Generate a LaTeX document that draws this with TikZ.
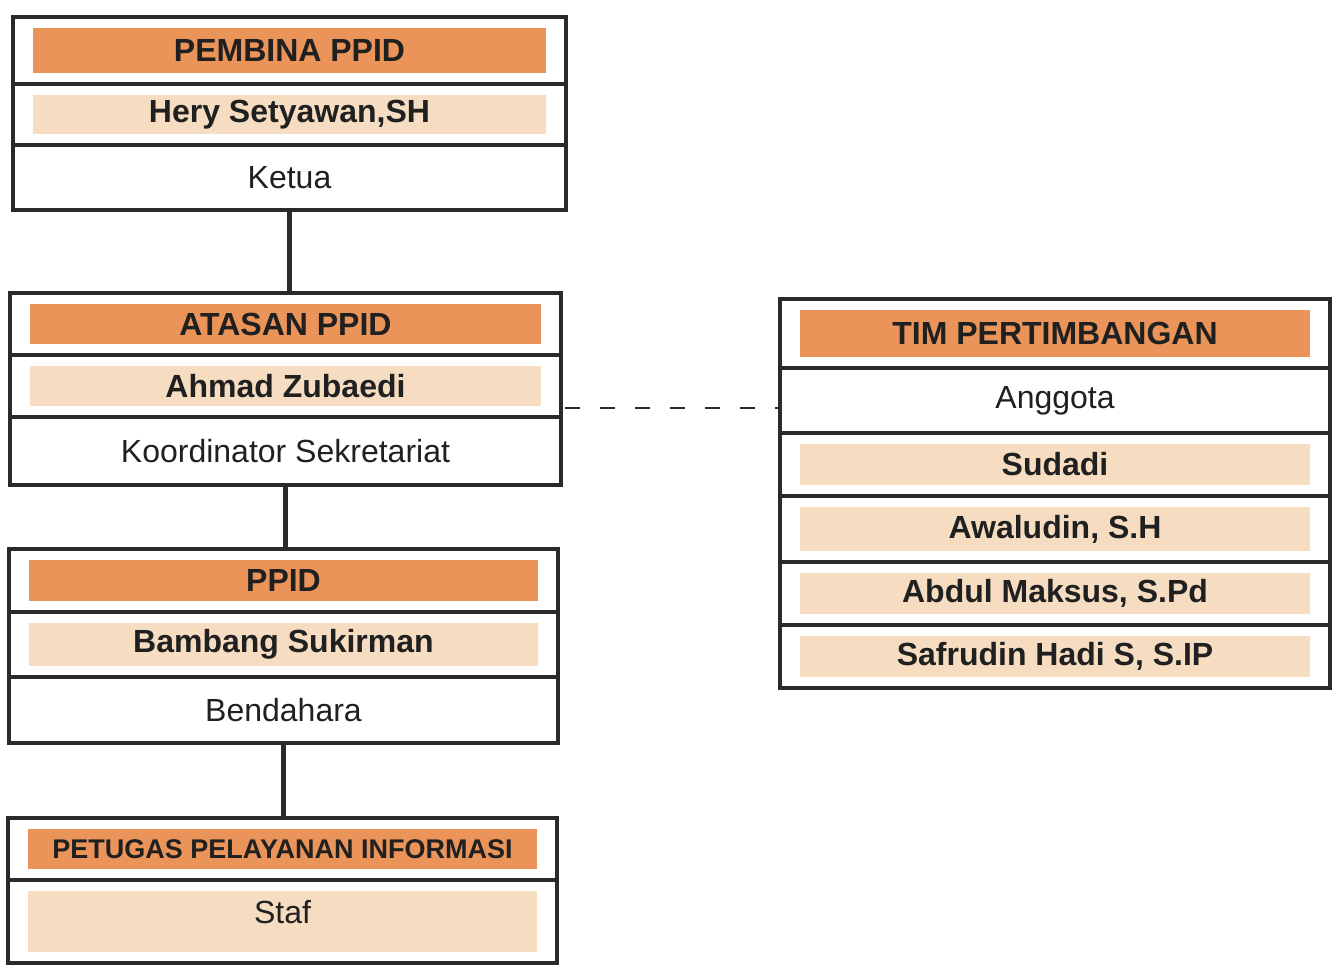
\documentclass[tikz,border=0pt]{standalone}
\usepackage{fontspec}
\setmainfont{Liberation Sans}
\usetikzlibrary{positioning}
\definecolor{headorange}{RGB}{234,148,90}
\definecolor{namepeach}{RGB}{246,221,194}
\definecolor{frameline}{RGB}{42,42,42}
\definecolor{inkgray}{RGB}{32,32,32}
\tikzset{
  rowbox/.style={draw=frameline, line width=4.5pt, inner sep=0pt, outer sep=0pt,
    text=inkgray, rectangle},
  band/.style={path picture={\fill[#1]
      ([xshift=20pt,yshift=-11pt]path picture bounding box.north west) rectangle
      ([xshift=-20pt,yshift=11pt]path picture bounding box.south east);}},
  headrow/.style={rowbox, band=headorange, font=\fontsize{#1}{#1}\selectfont\bfseries},
  headrow/.default=32,
  namerow/.style={rowbox, band=namepeach, font=\fontsize{#1}{#1}\selectfont\bfseries},
  namerow/.default=32,
  rolerow/.style={rowbox, font=\fontsize{#1}{#1}\selectfont},
  rolerow/.default=32,
  linkline/.style={draw=frameline, line width=5pt},
  dashlink/.style={draw=frameline, line width=1.6pt, dash pattern=on 15pt off 20pt},
}
\begin{document}
\begin{tikzpicture}[x=1pt,y=-1pt]
  \useasboundingbox[fill=white] (0,0) rectangle (1332,965);

  \begin{scope}[every node/.append style={minimum width=553pt}]
    \node[headrow, minimum height=67pt, anchor=north west] (pembinaHead) at (13,17) {PEMBINA PPID};
    \node[namerow, minimum height=61pt, below=0pt of pembinaHead] (pembinaName) {Hery Setyawan,SH};
    \node[rolerow, minimum height=65pt, below=0pt of pembinaName] (pembinaRole) {Ketua};
  \end{scope}

  \begin{scope}[every node/.append style={minimum width=551pt}]
    \node[headrow, minimum height=62pt, anchor=north west] (atasanHead) at (10,293) {ATASAN PPID};
    \node[namerow, minimum height=62pt, below=0pt of atasanHead] (atasanName) {Ahmad Zubaedi};
    \node[rolerow, minimum height=68pt, below=0pt of atasanName] (atasanRole) {Koordinator Sekretariat};
  \end{scope}

  \begin{scope}[every node/.append style={minimum width=549pt}]
    \node[headrow, minimum height=63pt, anchor=north west] (ppidHead) at (9,549) {PPID};
    \node[namerow, minimum height=65pt, below=0pt of ppidHead] (ppidName) {Bambang Sukirman};
    \node[rolerow, minimum height=66pt, below=0pt of ppidName] (ppidRole) {Bendahara};
  \end{scope}

  \begin{scope}[every node/.append style={minimum width=549pt}]
    \node[headrow=27, minimum height=62pt, anchor=north west] (petugasHead) at (8,818) {PETUGAS PELAYANAN INFORMASI};
    \node[rolerow, band=namepeach, minimum height=83pt, text depth=19pt, below=0pt of petugasHead] (petugasRole) {Staf};
  \end{scope}

  \begin{scope}[every node/.append style={minimum width=550pt}]
    \node[headrow, minimum height=69pt, anchor=north west] (timHead) at (780,299) {TIM PERTIMBANGAN};
    \node[rolerow, minimum height=65pt, below=0pt of timHead] (timRole) {Anggota};
    \node[namerow, minimum height=63pt, below=0pt of timRole] (timA) {Sudadi};
    \node[namerow, minimum height=66pt, below=0pt of timA] (timB) {Awaludin, S.H};
    \node[namerow, minimum height=63pt, below=0pt of timB] (timC) {Abdul Maksus, S.Pd};
    \node[namerow, minimum height=63pt, below=0pt of timC] (timD) {Safrudin Hadi S, S.IP};
  \end{scope}

  \draw[linkline] (pembinaRole.south) -- (pembinaRole.south |- atasanHead.north);
  \draw[linkline] (atasanRole.south) -- (atasanRole.south |- ppidHead.north);
  \draw[linkline] (ppidRole.south) -- (ppidRole.south |- petugasHead.north);

  \coordinate (dashStart) at ([xshift=4pt,yshift=9pt]atasanName.south east);
  \draw[dashlink] (dashStart) -- (dashStart -| timRole.west);
\end{tikzpicture}
\end{document}
